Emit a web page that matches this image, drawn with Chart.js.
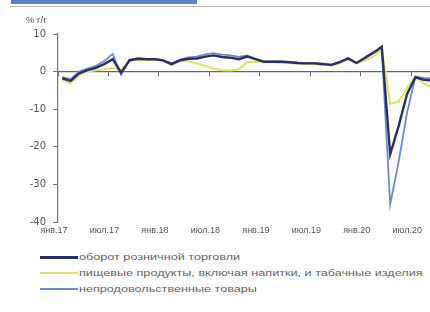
<!DOCTYPE html>
<html>
<head>
<meta charset="utf-8">
<script src="https://cdn.jsdelivr.net/npm/chart.js@4.4.1/dist/chart.umd.min.js"></script>
<style>
  html, body { margin: 0; padding: 0; background: #fff; }
  #page { position: relative; width: 430px; height: 312px; overflow: hidden; background: #fff; }
  #topBar { position: absolute; left: 11px; top: 0; width: 186px; height: 4px; background: #5a80c6; }
  #topLine { position: absolute; left: 10px; top: 6px; width: 420px; height: 1px; background: #b8b8b8; }
  #unit { position: absolute; left: 26px; top: 14px; font: 9.5px "Liberation Sans", Arial, sans-serif; color: #555; }
  #wrap { position: absolute; left: 0; top: 0; }
  .leg { position: absolute; left: 40px; height: 12px; }
  .leg .ln { position: absolute; left: 0; width: 38px; }
  .leg .tx { position: absolute; left: 39px; top: 0; white-space: nowrap;
    font: 9.5px "Liberation Sans", Arial, sans-serif; color: #666;
    transform: scaleX(1.33); transform-origin: left center; }
</style>
</head>
<body>
<div id="page">
  <div id="topBar"></div>
  <div id="topLine"></div>
  <div id="wrap"><canvas id="chart" width="460" height="240"></canvas></div>
  <div id="unit">% г/г</div>
  <div id="legend"></div>
</div>
<script>
// янв.17 ... сен.20, % г/г
const xTicks = ["янв.17", "июл.17", "янв.18", "июл.18", "янв.19", "июл.19", "янв.20", "июл.20"];
const yTicks = [10, 0, -10, -20, -30, -40];

const seriesNames = [
  "оборот розничной торговли",
  "пищевые продукты, включая напитки, и табачные изделия",
  "непродовольственные товары"
];

const retail = [-1.8, -2.5, -0.5, 0.4, 1.0, 2.0, 3.3, -0.3, 3.0, 3.4, 3.3, 3.3,
  3.0, 2.0, 3.0, 3.4, 3.5, 4.0, 4.3, 3.9, 3.7, 3.3, 4.0, 3.3,
  2.6, 2.6, 2.6, 2.5, 2.3, 2.2, 2.2, 2.0, 1.8, 2.5, 3.5, 2.3,
  3.6, 5.0, 6.6, -22.0, -14.5, -6.0, -1.5, -2.2, -2.4];

const food = [-2.3, -3.2, -1.0, 0.0, 0.4, 0.6, 1.0, 0.4, 2.8, 3.2, 3.1, 3.1,
  2.9, 1.8, 2.8, 2.8, 2.2, 1.5, 0.8, 0.4, 0.3, 0.6, 2.6, 2.6,
  2.5, 2.5, 2.4, 2.3, 2.1, 2.0, 2.0, 1.8, 1.6, 2.3, 3.3, 2.2,
  3.0, 4.0, 6.0, -8.5, -8.0, -4.4, -1.3, -3.1, -4.2];

const nonFood = [-1.5, -2.0, 0.0, 0.8, 1.5, 2.8, 4.7, -0.8, 3.2, 3.6, 3.4, 3.4,
  3.0, 2.2, 3.2, 3.8, 4.0, 4.6, 4.9, 4.5, 4.3, 3.9, 4.3, 3.3,
  2.7, 2.7, 2.7, 2.6, 2.4, 2.3, 2.3, 2.1, 1.8, 2.6, 3.4, 2.2,
  3.9, 5.2, 6.0, -35.3, -24.0, -11.0, -1.3, -1.7, -1.8];

const colors = ["#2a3062", "#e0e272", "#7088cc"];
const widths = [2.4, 2.2, 1.8];
const X_MAX = 47.8; // the picture is cut on the right

// month i sits in the middle of its band
const toPoints = (arr) => arr.map((v, i) => ({ x: i + 0.5, y: v }));

const legendEl = document.getElementById("legend");
seriesNames.forEach((name, i) => {
  const row = document.createElement("div");
  row.className = "leg";
  row.style.top = (251 + i * 16) + "px";
  row.innerHTML = '<div class="ln" style="top:' + (6 - (i === 0 ? 1.5 : 1)) + 'px;height:' + (i === 0 ? 3 : 2) +
    'px;background:' + colors[i] + '"></div><div class="tx">' + name + '</div>';
  legendEl.appendChild(row);
});

const axisGrey = "#777";

new Chart(document.getElementById("chart"), {
  type: "line",
  data: {
    datasets: [retail, food, nonFood].map((arr, i) => ({
      label: seriesNames[i],
      data: toPoints(arr),
      borderColor: colors[i],
      borderWidth: widths[i],
      pointRadius: 0,
      tension: 0,
      fill: false
    }))
  },
  options: {
    responsive: false,
    animation: false,
    devicePixelRatio: 1,
    layout: { padding: { top: 34, left: 0, right: 0, bottom: 0 } },
    plugins: { legend: { display: false }, tooltip: { enabled: false } },
    scales: {
      x: {
        type: "linear",
        min: 0,
        max: X_MAX,
        border: { display: false },
        grid: { display: false },
        ticks: {
          stepSize: 6,
          autoSkip: false,
          maxRotation: 0,
          labelOffset: -4,
          padding: -5,
          color: "#555",
          font: { family: "Liberation Sans", size: 9 },
          callback: (v) => (v % 6 === 0 ? xTicks[v / 6] : null)
        },
        afterFit: (s) => { s.height = 18; }
      },
      x0: {
        type: "linear",
        axis: "x",
        position: { y: 0 },
        min: 0,
        max: X_MAX,
        border: { display: true, color: "#666", width: 1.2 },
        grid: { drawOnChartArea: false, drawTicks: true, tickLength: 4, color: "#666" },
        ticks: {
          stepSize: 6,
          autoSkip: false,
          maxRotation: 0,
          font: { size: 1 },
          callback: (v) => (v % 6 === 0 ? "" : null)
        }
      },
      y: {
        min: -40,
        max: 10,
        border: { display: true, color: axisGrey, width: 1.2 },
        grid: { drawOnChartArea: false, drawTicks: true, tickLength: 5, color: axisGrey },
        afterBuildTicks: (s) => { s.ticks = yTicks.map((v) => ({ value: v })); },
        ticks: {
          padding: 7,
          color: "#555",
          font: { family: "DejaVu Sans", size: 10 }
        },
        afterFit: (s) => { s.width = 58; }
      }
    }
  }
});
</script>
</body>
</html>
